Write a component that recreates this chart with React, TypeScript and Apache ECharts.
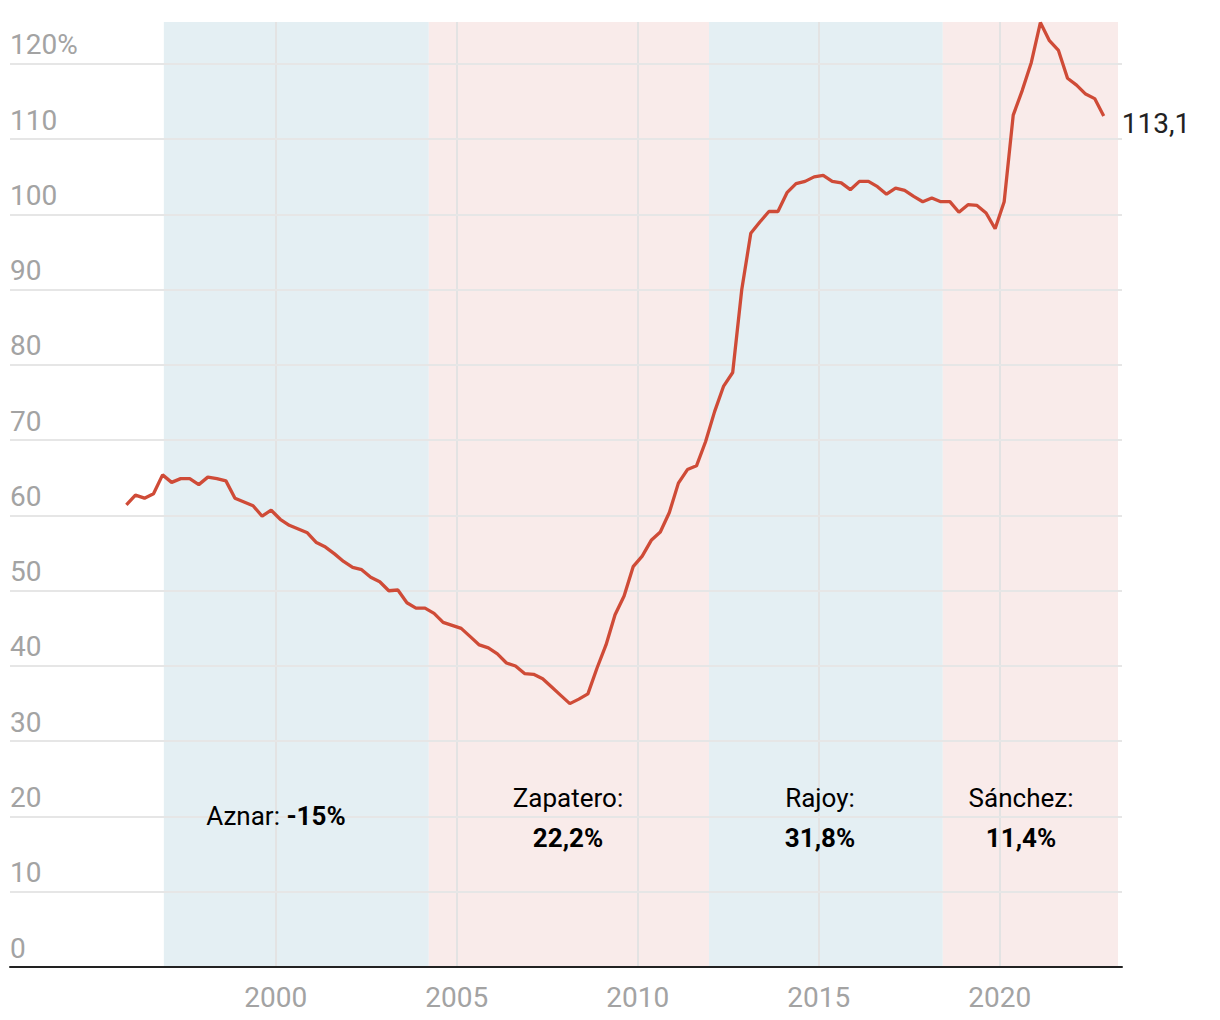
import React, { useEffect, useRef } from "react";
import * as echarts from "echarts";

// Quarterly public debt (% of GDP), 1995-T4 .. 2022-T4
const START_YEAR = 1995;
const START_QUARTER = 4;
const debtPct = [
  61.4, 62.7, 62.3, 62.9, 65.4, 64.4, 64.9, 64.9, 64.1, 65.1,
  64.9, 64.6, 62.3, 61.8, 61.3, 59.9, 60.7, 59.5, 58.7, 58.2,
  57.7, 56.4, 55.8, 54.9, 53.9, 53.1, 52.8, 51.8, 51.2, 50.0,
  50.1, 48.4, 47.7, 47.7, 47.0, 45.8, 45.4, 45.0, 43.9, 42.8,
  42.4, 41.6, 40.4, 40.0, 39.0, 38.9, 38.3, 37.2, 36.1, 35.0,
  35.6, 36.3, 39.7, 42.8, 46.8, 49.3, 53.2, 54.6, 56.7, 57.8,
  60.4, 64.3, 66.1, 66.6, 69.8, 73.8, 77.2, 79.0, 90.0, 97.5,
  99.0, 100.4, 100.4, 102.9, 104.1, 104.4, 105.0, 105.2, 104.4, 104.2,
  103.3, 104.4, 104.4, 103.7, 102.7, 103.5, 103.2, 102.4, 101.7, 102.2,
  101.7, 101.7, 100.3, 101.3, 101.2, 100.2, 98.1, 101.7, 113.2, 116.5,
  120.2, 125.5, 123.1, 121.8, 118.1, 117.2, 116.0, 115.4, 113.1,
];

// Government terms
const leaderNames = ["Aznar", "Zapatero", "Rajoy", "Sánchez"];
const leaderChanges = ["-15%", "22,2%", "31,8%", "11,4%"];
const termStarts = [1996.91, 2004.23, 2011.97, 2018.43];
const termEnds = [2004.23, 2011.97, 2018.43, 2023.27];
const termParty = ["PP", "PSOE", "PP", "PSOE"];

const xTicks = [2000, 2005, 2010, 2015, 2020];

const X_MIN = 1992.66;
const X_MAX = 2023.38;
const Y_MAX = 125.58;

const FONT = "Roboto";
const partyColor: Record<string, string> = { PP: "#e4eff3", PSOE: "#f9ebea" };

// label layout (pixels)
const annotationX = [276, 568, 820, 1021];
const annotationY = [816, 818, 818, 818];

export default function App() {
  const ref = useRef<HTMLDivElement>(null);

  useEffect(() => {
    document.body.style.margin = "0";
    if (!ref.current) return;
    const chart = echarts.init(ref.current, null, { renderer: "svg" });

    const points = debtPct.map((v, i) => {
      const q = START_QUARTER - 1 + i;
      const year = START_YEAR + Math.floor(q / 4);
      const quarter = (q % 4) + 1;
      return [year + (quarter - 0.5) / 4, v];
    });

    const option: any = {
      animation: false,
      grid: { left: 10, right: 98, top: 22, bottom: 53, containLabel: false },
      xAxis: {
        type: "value",
        min: X_MIN,
        max: X_MAX,
        axisLine: { show: true, lineStyle: { color: "#222", width: 2 } },
        axisTick: { show: false },
        splitLine: { show: false },
        axisLabel: {
          customValues: xTicks,
          color: "#a3a3a3",
          fontSize: 28,
          fontFamily: FONT,
          margin: 16,
          formatter: (v: number) =>
            v >= 2000 && Math.abs(v % 5) < 1e-6 ? String(Math.round(v)) : "",
        },
      },
      yAxis: {
        type: "value",
        min: 0,
        max: Y_MAX,
        interval: 10,
        axisLine: { show: false },
        axisTick: { show: false },
        splitLine: {
          show: true,
          showMaxLine: false,
          lineStyle: { color: "#e6e6e6", width: 2 },
        },
        axisLabel: {
          inside: true,
          margin: 0,
          align: "left",
          verticalAlign: "bottom",
          padding: [0, 0, 5, 0],
          showMaxLabel: false,
          color: "#a3a3a3",
          fontSize: 28,
          fontFamily: FONT,
          formatter: (v: number) => (v === 120 ? "120%" : String(v)),
        },
      },
      series: [
        {
          type: "line",
          data: [],
          z: -2,
          silent: true,
          markArea: {
            silent: true,
            z: -2,
            label: { show: false },
            data: termStarts.map((s, i) => [
              { xAxis: s, itemStyle: { color: partyColor[termParty[i]], opacity: 1 } },
              { xAxis: termEnds[i] },
            ]),
          },
        },
        {
          type: "line",
          data: [],
          z: -1,
          silent: true,
          markLine: {
            silent: true,
            z: -1,
            symbol: ["none", "none"],
            label: { show: false },
            lineStyle: { color: "#e3e3e3", width: 2, type: "solid" },
            data: xTicks.map((x) => ({ xAxis: x })),
          },
        },
        {
          type: "line",
          data: points,
          z: 3,
          clip: false,
          showSymbol: false,
          lineStyle: { color: "#cf4b37", width: 3.3 },
          endLabel: {
            show: true,
            formatter: (p: any) => String(p.value[1]).replace(".", ","),
            fontSize: 28,
            fontFamily: FONT,
            color: "#222",
            distance: 18,
            offset: [0, 8],
          },
        },
      ],
      graphic: leaderNames.map((name, i) => ({
        type: "text",
        x: annotationX[i],
        y: annotationY[i],
        z: 10,
        style: {
          text:
            i === 0
              ? `{n|${name}: }{b|${leaderChanges[i]}}`
              : `{n|${name}:}\n{b|${leaderChanges[i]}}`,
          align: "center",
          verticalAlign: "middle",
          rich: {
            n: { fontSize: 26, fontFamily: FONT, color: "#222", lineHeight: 40 },
            b: { fontSize: 26, fontFamily: FONT, fontWeight: "bold", color: "#1a1a1a", lineHeight: 40 },
          },
        },
      })),
    };

    chart.setOption(option);
    return () => chart.dispose();
  }, []);

  return <div ref={ref} style={{ width: 1220, height: 1020 }} />;
}
